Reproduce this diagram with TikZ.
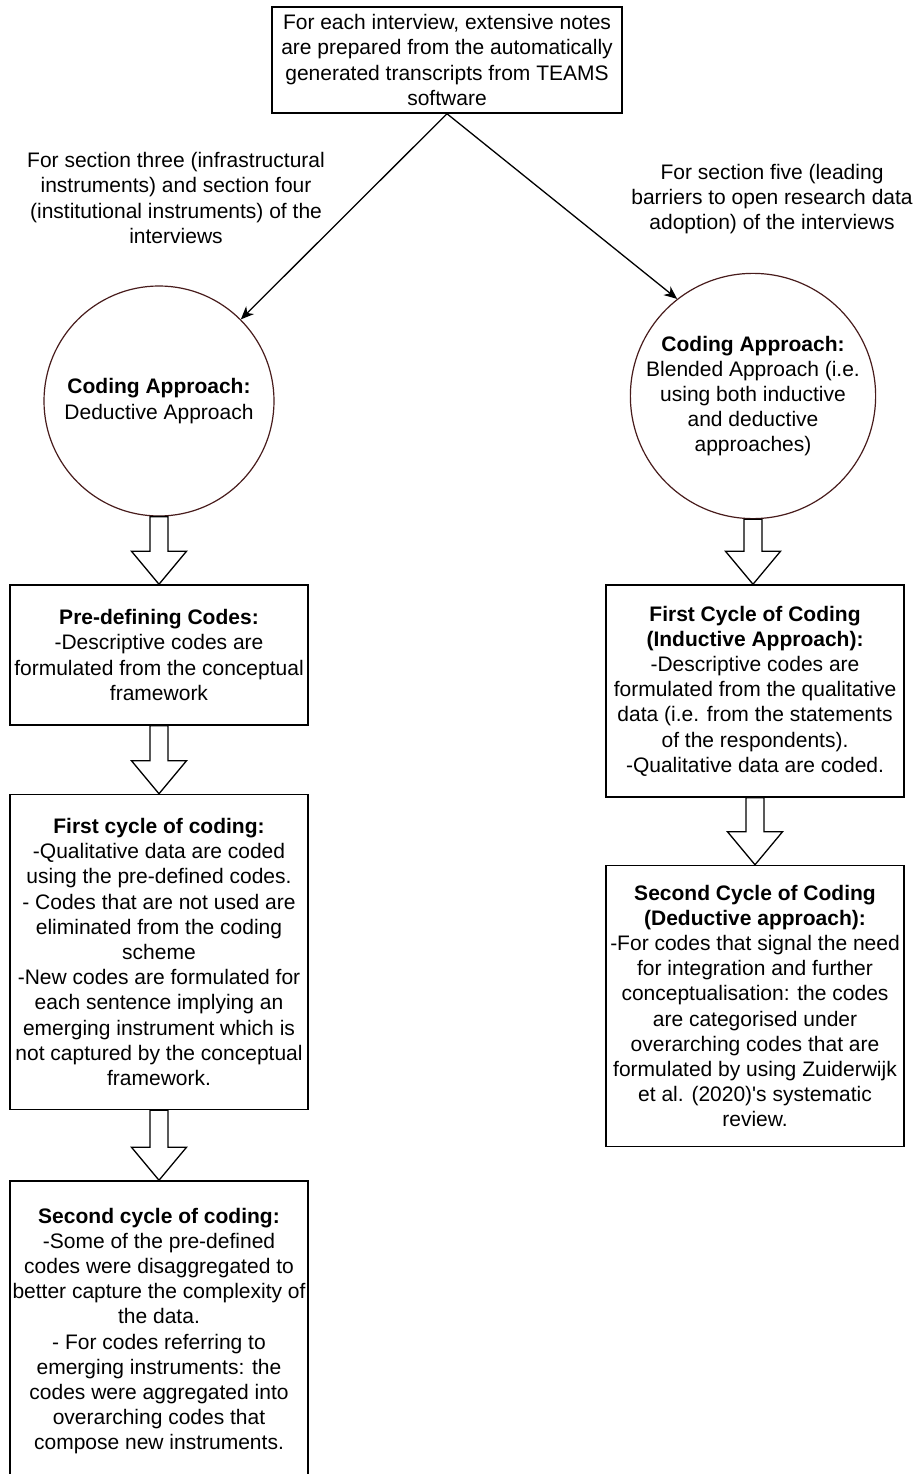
\documentclass[tikz,border=0pt]{standalone}
\usepackage{fontspec}
\setmainfont{Liberation Sans}
\usetikzlibrary{arrows.meta,calc}
\definecolor{circline}{RGB}{72,28,28}
\tikzset{
  txt/.style={font=\fontsize{21}{25.2}\selectfont, align=center, inner sep=0pt},
  box/.style={txt, draw=black, line width=1.5pt, fill=white},
  approach/.style={txt, circle, draw=circline, line width=1.2pt, minimum size=230pt},
  conn/.style={draw=black, line width=1.3pt, -{Stealth[length=13pt,width=11pt,inset=4pt]}},
  blockline/.style={draw=black, line width=1.3pt, fill=white, line join=miter},
}
% hollow block arrow from the bottom of node #1 to the top of node #2
\newcommand\blockarrow[2]{%
  \draw[blockline] let \p1=(#1.south), \p2=(#2.north) in
    (\x1-9pt,\y1) -- (\x1-9pt,\y2+33pt) -- (\x1-27.5pt,\y2+33pt) -- (\x1,\y2)
    -- (\x1+27.5pt,\y2+33pt) -- (\x1+9pt,\y2+33pt) -- (\x1+9pt,\y1) -- cycle;}
\begin{document}
\begin{tikzpicture}[x=1pt,y=-1pt]
\useasboundingbox (0,0) rectangle (916,1474);
\clip (0,0) rectangle (916,1474);
\fill[white] (0,0) rectangle (916,1474);

% source notes
\node[box, minimum width=350pt, minimum height=106pt] (notes) at (447,60)
  {For each interview, extensive notes\\are prepared from the automatically\\generated transcripts from TEAMS\\software};

% branch labels
\node[txt] (labL) at (176,198)
  {For section three (infrastructural\\instruments) and section four\\(institutional instruments) of the\\interviews};
\node[txt] (labR) at (772,199)
  {For section five (leading\\barriers to open research data\\adoption) of the interviews};

% coding approaches
\node[approach] (apL) at (159,401)
  {\textbf{Coding Approach:}\\Deductive Approach};
\node[approach] (apR) at (753,396)
  {\textbf{Coding Approach:}\\Blended Approach (i.e.\\using both inductive\\and deductive\\approaches)};

\draw[conn] (notes.south) -- (apL);
\draw[conn] (notes.south) -- (apR.128);

% left column
\node[box, minimum width=298pt, minimum height=140pt] (predef) at (159,655)
  {\textbf{Pre-defining Codes:}\\-Descriptive codes are\\formulated from the conceptual\\framework};
\node[box, minimum width=298pt, minimum height=315pt] (cycL1) at (159,952)
  {\textbf{First cycle of coding:}\\-Qualitative data are coded\\using the pre-defined codes.\\- Codes that are not used are\\eliminated from the coding\\scheme\\-New codes are formulated for\\each sentence implying an\\emerging instrument which is\\not captured by the conceptual\\framework.};
\node[box, minimum width=298pt, minimum height=300pt] (cycL2) at (159,1331)
  {\textbf{Second cycle of coding:}\\-Some of the pre-defined\\codes were disaggregated to\\better capture the complexity of\\the data.\\- For codes referring to\\emerging instruments: the\\codes were aggregated into\\overarching codes that\\compose new instruments.};

% right column
\node[box, minimum width=298pt, minimum height=212pt] (cycR1) at (755,691)
  {\textbf{First Cycle of Coding}\\\textbf{(Inductive Approach):}\\-Descriptive codes are\\formulated from the qualitative\\data (i.e. from the statements\\of the respondents).\\-Qualitative data are coded.};
\node[box, minimum width=298pt, minimum height=281pt] (cycR2) at (755,1006)
  {\textbf{Second Cycle of Coding}\\\textbf{(Deductive approach):}\\-For codes that signal the need\\for integration and further\\conceptualisation: the codes\\are categorised under\\overarching codes that are\\formulated by using Zuiderwijk\\et al. (2020)\textquotesingle s systematic\\review.};

\blockarrow{apL}{predef}
\blockarrow{predef}{cycL1}
\blockarrow{cycL1}{cycL2}
\blockarrow{apR}{cycR1}
\blockarrow{cycR1}{cycR2}
\end{tikzpicture}
\end{document}
